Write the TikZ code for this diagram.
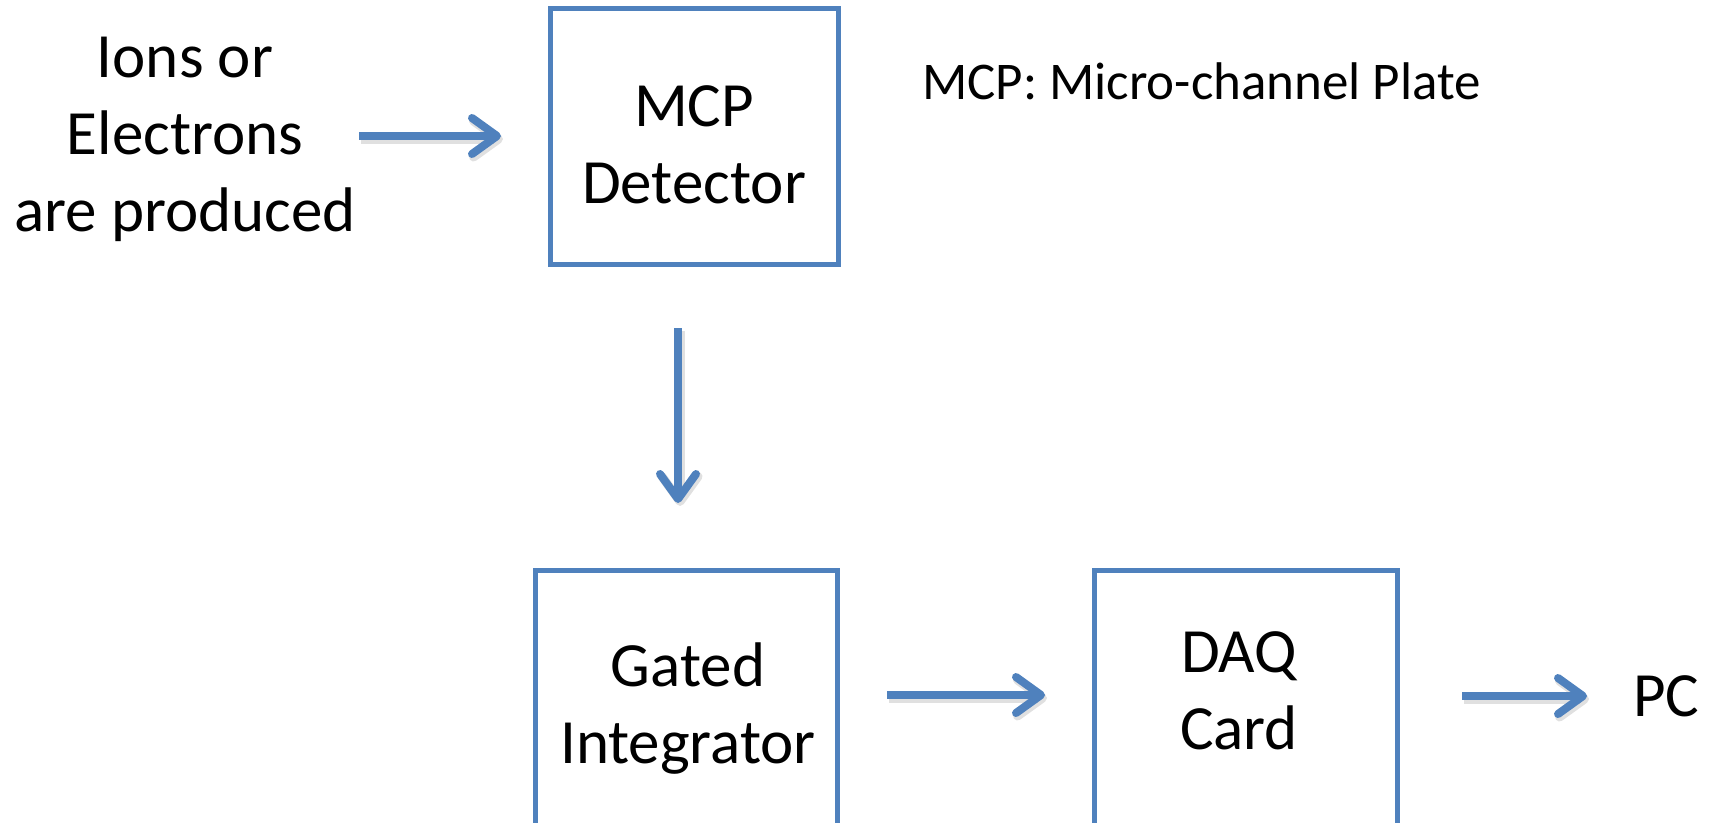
\documentclass[tikz,border=0pt]{standalone}
\usepackage{fontspec}
\setmainfont{Carlito}
\usetikzlibrary{arrows.meta}
\definecolor{accent}{RGB}{79,129,189}
\tikzset{
  boxnode/.style={draw=accent, line width=5pt, inner sep=0pt},
  bigtext/.style={font=\fontsize{63}{77}\selectfont, inner sep=0pt, anchor=base},
  smalltext/.style={font=\fontsize{53}{65}\selectfont, inner sep=0pt, anchor=base west},
  flow/.style={draw=accent, line width=8pt, line cap=butt, line join=round,
    -{Straight Barb[length=25pt, width=36pt, line cap=round, line join=round]},
    preaction={draw=black, opacity=0.12, line width=9pt,
      transform canvas={shift={(2pt,-3pt)}}}}
}
\newcommand{\lines}[1]{\begin{tabular}[t]{@{}c@{}}#1\end{tabular}}
\begin{document}
\begin{tikzpicture}[x=1pt, y=-1pt]
\useasboundingbox (0,0) rectangle (1710,822);
\clip (0,0) rectangle (1710,822);
% boxes
\node[boxnode, minimum width=288pt, minimum height=256pt] (mcp) at (694,136) {};
\node[boxnode, minimum width=302pt, minimum height=400pt, anchor=north] (gi) at (686,568) {};
\node[boxnode, minimum width=303pt, minimum height=400pt, anchor=north] (daq) at (1245.5,568) {};
% texts
\node[bigtext] (ions) at (185,77) {\lines{Ions or\\Electrons\\are produced}};
\node[bigtext] (mcptext) at (694,126) {\lines{MCP\\Detector}};
\node[smalltext] (note) at (922,99) {MCP: Micro-channel Plate};
\node[bigtext] (gitext) at (688,686) {\lines{Gated\\Integrator}};
\node[bigtext] (daqtext) at (1239,672) {\lines{DAQ\\Card}};
\node[bigtext, anchor=base west] (pc) at (1633,716) {PC};
% connector ends
\coordinate (a1s) at (359,136);
\coordinate (a1e) at (501,136);
\coordinate (a2s) at (678,328);
\coordinate (a2e) at (678,503);
\coordinate (a3s) at (887,695);
\coordinate (a3e) at (1045,695);
\coordinate (a4s) at (1462,696);
\coordinate (a4e) at (1587,696);
\draw[flow] (a1s) -- (a1e);
\draw[flow] (a2s) -- (a2e);
\draw[flow] (a3s) -- (a3e);
\draw[flow] (a4s) -- (a4e);
\end{tikzpicture}
\end{document}
